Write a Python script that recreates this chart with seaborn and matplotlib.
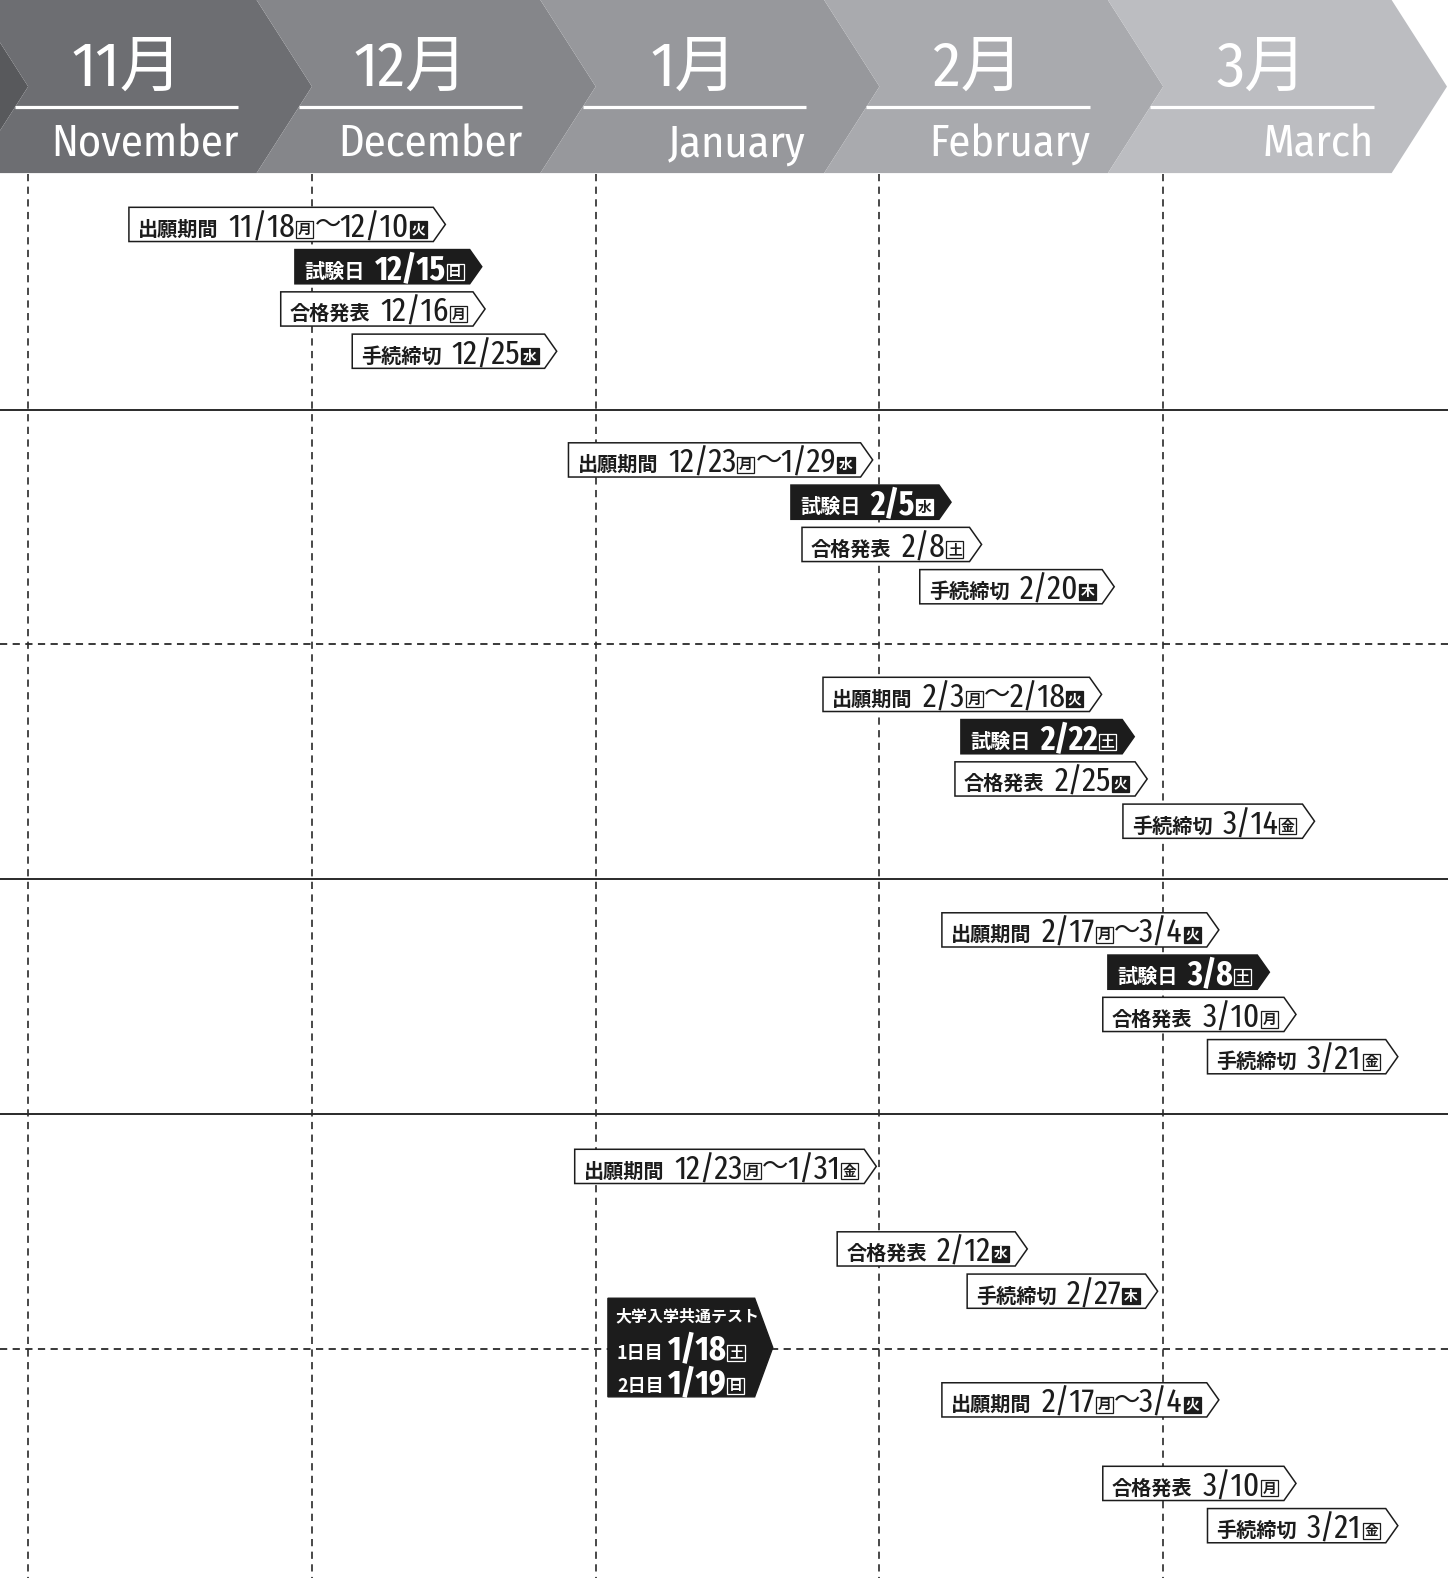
import matplotlib
matplotlib.use('Agg')
import matplotlib.pyplot as plt
import seaborn as sns
from matplotlib import font_manager as fm
from matplotlib.patches import Polygon, Rectangle

sns.set_theme(style='white')

names = {f.name for f in fm.fontManager.ttflist}
DATE = next((n for n in ['Fira Sans Extra Condensed', 'Barlow Condensed', 'Roboto Condensed'] if n in names), 'DejaVu Sans')
HEAD = next((n for n in ['Fira Sans Condensed', 'Barlow Semi Condensed', 'Roboto Condensed'] if n in names), 'DejaVu Sans')
JP = 'Noto Sans CJK JP'
plt.rcParams['font.family'] = [HEAD, JP]

# header
months_jp = ['11月', '12月', '1月', '2月', '3月']
months_en = ['November', 'December', 'January', 'February', 'March']
header_colors = ['#58595c', '#6d6e72', '#85868a', '#97989c', '#a9aaae', '#bcbdc1']

# schedule tags (x = months after Nov 1, y = row centre)
tag_label = ['出願期間', '試験日', '合格発表', '手続締切',
             '出願期間', '試験日', '合格発表', '手続締切',
             '出願期間', '試験日', '合格発表', '手続締切',
             '出願期間', '試験日', '合格発表', '手続締切',
             '出願期間', '合格発表', '手続締切',
             '出願期間', '合格発表', '手続締切']
tag_dates = [
    [('11/18', '月'), ('12/10', '火')], [('12/15', '日')], [('12/16', '月')], [('12/25', '水')],
    [('12/23', '月'), ('1/29', '水')], [('2/5', '水')], [('2/8', '土')], [('2/20', '木')],
    [('2/3', '月'), ('2/18', '火')], [('2/22', '土')], [('2/25', '火')], [('3/14', '金')],
    [('2/17', '月'), ('3/4', '火')], [('3/8', '土')], [('3/10', '月')], [('3/21', '金')],
    [('12/23', '月'), ('1/31', '金')], [('2/12', '水')], [('2/27', '木')],
    [('2/17', '月'), ('3/4', '火')], [('3/10', '月')], [('3/21', '金')],
]
tag_x = [0.355, 0.940, 0.890, 1.142,
         1.904, 2.688, 2.727, 3.142,
         2.801, 3.287, 3.266, 3.858,
         3.220, 3.805, 3.787, 4.156,
         1.926, 2.851, 3.309,
         3.220, 3.787, 4.156]
tag_y = [223, 265, 307, 349,
         457, 499, 541, 583,
         690, 732, 774, 816,
         924, 966, 1008, 1050,
         1159, 1241, 1283,
         1391, 1474, 1516]

# common test box
ct_title = '大学入学共通テスト'
ct_days = [('1日目', '1/18', '土'), ('2日目', '1/19', '日')]
ct_x = (2.043, 2.624)
ct_y = (1290, 1388)

FILLED = {'水', '火', '木'}
INK = '#1c1c1c'
PX = 1 / 282

fig = plt.figure(figsize=(14.48, 15.78), dpi=100)
ax = fig.add_axes([0, 0, 1, 1])
ax.set_xlim(-28 * PX, 1411 * PX)
ax.set_ylim(1568, 0)
ax.axis('off')
renderer = fig.canvas.get_renderer()
inv = ax.transData.inverted()


def right_of(t):
    bb = t.get_window_extent(renderer)
    return inv.transform((bb.x1, bb.y0))[0]


# header chevrons
for k in range(-1, 5):
    xl, xr, d = k, k + 1, 55 * PX
    pts = [(xl - d, 0), (xr - d, 0), (xr, 86), (xr - d, 172), (xl - d, 172), (xl, 86)]
    ax.add_patch(Polygon(pts, closed=True, facecolor=header_colors[k + 1], edgecolor='none', zorder=2))
    if k < 0:
        continue
    a, b = xl - 13 * PX, xr - 73 * PX
    ax.plot([a, b], [106, 106], color='white', lw=2.3, zorder=3, solid_capstyle='butt')
    ax.text((a + b) / 2, 85, months_jp[k], ha='center', va='baseline', fontsize=45,
            family=[HEAD, JP], color='white', zorder=3)
    ax.text(b, 156, months_en[k], ha='right', va='baseline', fontsize=32,
            family=[HEAD], color='white', zorder=3)

# grid
for m in range(5):
    ax.plot([m, m], [173, 1568], color='#3a3a3a', lw=1.3, ls=(0, (4, 3)), zorder=1)
for y, ls in zip([407, 640, 873, 1107, 1340], ['-', (0, (4, 3)), '-', '-', (0, (4, 3))]):
    ax.plot([-28 * PX, 1411 * PX], [y, y], color='#2a2a2a', lw=1.4 if ls == '-' else 1.3, ls=ls, zorder=1)


def weekday(x, base, ch, dark, w=17, h=16):
    filled = ch in FILLED
    ink = 'white' if dark else INK
    paper = INK if dark else 'white'
    ax.add_patch(Rectangle((x, base - h), w * PX, h, facecolor=ink if filled else paper,
                           edgecolor=ink, lw=0.9, zorder=6))
    ax.text(x + w * PX / 2, base - h / 2 + 0.5, ch, ha='center', va='center', fontsize=h * 0.62,
            fontweight='bold', family=[JP], color=paper if filled else ink, zorder=7)
    return x + w * PX


def tag(x0, yc, label, parts):
    dark = label == '試験日'
    fg = 'white' if dark else INK
    base = yc + 13
    t = ax.text(x0 + 9 * PX, yc + 11, label, fontsize=14.5, fontweight='bold', family=[JP],
                color=fg, va='baseline', zorder=5)
    x = right_of(t) + 10 * PX
    for i, (d, w) in enumerate(parts):
        if i:
            t = ax.text(x + 1 * PX, yc + 1, '〜', fontsize=19, family=[JP], color=fg, va='center', zorder=5)
            x = right_of(t) - 1 * PX
        t = ax.text(x, base, d, fontsize=24.5, fontweight='bold' if dark else 'normal',
                    family=[DATE], color=fg, va='baseline', zorder=5)
        x = right_of(t) + 1 * PX
        x = weekday(x, base, w, dark)
    x_end = x + 6 * PX
    tip = x_end + 12 * PX
    pts = [(x0, yc - 17), (x_end, yc - 17), (tip, yc), (x_end, yc + 17), (x0, yc + 17)]
    ax.add_patch(Polygon(pts, closed=True, facecolor=INK if dark else 'white',
                         edgecolor=INK, lw=1.1, zorder=4, joinstyle='miter'))


for x0, yc, label, parts in zip(tag_x, tag_y, tag_label, tag_dates):
    tag(x0, yc, label, parts)

# common test
x0, x1 = ct_x
y0, y1 = ct_y
pts = [(x0, y0), (x1 - 18 * PX, y0), (x1, (y0 + y1) / 2), (x1 - 18 * PX, y1), (x0, y1)]
ax.add_patch(Polygon(pts, closed=True, facecolor=INK, edgecolor=INK, lw=1, zorder=4))
ax.text(x0 + 7 * PX, y0 + 23, ct_title, fontsize=11.5, fontweight='bold', family=[JP],
        color='white', va='baseline', zorder=5)
for i, (day, d, w) in enumerate(ct_days):
    base = y0 + 62 + 33 * i
    t = ax.text(x0 + 9 * PX, base - 2, day, fontsize=13, fontweight='bold', family=[JP],
                color='white', va='baseline', zorder=5)
    x = right_of(t) + 4 * PX
    t = ax.text(x, base, d, fontsize=25, fontweight='bold', family=[DATE],
                color='white', va='baseline', zorder=5)
    x = right_of(t) + 1 * PX
    weekday(x, base, w, True, w=17, h=16)

fig.savefig('out.png', dpi=100)
